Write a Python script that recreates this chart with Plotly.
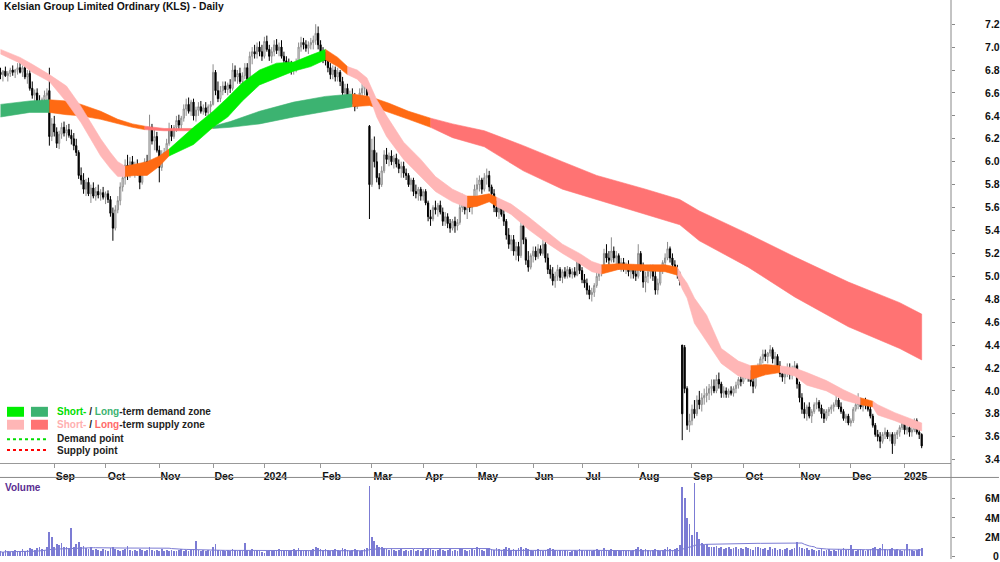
import numpy as np
import pandas as pd
import plotly.graph_objects as go

# ---------------- data ----------------
open_ = [
6.78,6.76,6.79,6.75,6.77,6.80,6.78,6.80,6.82,6.78,
6.82,6.74,6.77,6.64,6.58,6.60,6.52,6.47,6.54,6.58,
6.62,6.22,6.33,6.26,6.16,6.24,6.30,6.25,6.28,6.23,
6.20,6.14,6.08,5.88,5.84,5.76,5.82,5.72,5.77,5.70,
5.74,5.71,5.73,5.69,5.72,5.67,5.55,5.42,5.58,5.66,
5.78,5.86,5.97,5.90,6.00,5.93,5.96,5.90,5.82,5.95,
6.00,5.98,6.30,6.18,6.22,6.10,5.95,6.06,6.08,6.16,
6.28,6.22,6.30,6.36,6.32,6.38,6.46,6.50,6.44,6.52,
6.40,6.45,6.48,6.44,6.47,6.43,6.48,6.50,6.78,6.62,
6.55,6.62,6.66,6.63,6.67,6.64,6.80,6.74,6.77,6.70,
6.75,6.82,6.72,6.92,6.96,6.94,7.00,6.96,6.92,7.05,
6.98,6.92,6.96,7.02,6.97,7.00,6.92,6.88,6.84,6.82,
6.80,6.84,6.86,7.00,7.04,7.02,6.99,7.02,7.04,7.06,
7.12,7.02,6.95,6.90,6.88,6.82,6.76,6.80,6.74,6.78,
6.70,6.60,6.64,6.52,6.58,6.54,6.48,6.56,6.60,6.64,
6.66,6.31,5.80,6.10,6.00,5.86,5.80,5.92,6.06,6.02,
6.05,6.00,6.03,5.98,5.94,5.96,5.90,5.88,5.80,5.84,
5.74,5.72,5.76,5.70,5.74,5.64,5.52,5.50,5.60,5.58,
5.62,5.56,5.48,5.52,5.46,5.42,5.48,5.44,5.47,5.60,
5.68,5.58,5.62,5.60,5.64,5.76,5.80,5.84,5.76,5.86,
5.88,5.78,5.72,5.60,5.56,5.60,5.54,5.48,5.36,5.28,
5.32,5.22,5.26,5.18,5.44,5.32,5.14,5.08,5.18,5.22,
5.17,5.24,5.20,5.28,5.16,5.06,5.02,4.96,5.00,5.06,
4.99,5.04,5.00,5.06,5.02,5.04,5.01,5.14,5.05,4.97,
4.94,4.88,4.84,4.86,4.92,5.00,5.04,5.08,5.20,5.16,
5.14,5.22,5.16,5.18,5.10,5.12,5.08,5.10,5.04,5.06,
5.02,5.00,5.20,5.08,4.95,5.00,5.04,5.06,5.00,4.88,
4.94,5.05,5.12,5.16,5.24,5.16,5.10,5.06,5.02,4.40,
4.38,4.02,3.70,3.74,3.84,3.80,3.92,3.88,3.94,3.96,
3.98,4.02,4.04,4.00,4.10,4.06,3.98,4.00,3.97,4.00,
3.98,4.02,4.05,4.10,4.08,4.14,4.16,4.12,4.08,4.04,
4.18,4.20,4.28,4.32,4.30,4.33,4.36,4.28,4.30,4.22,
4.15,4.12,4.16,4.20,4.14,4.18,4.22,4.06,3.94,3.84,
3.80,3.86,3.78,3.82,3.88,3.90,3.85,3.80,3.76,3.82,
3.84,3.86,3.88,3.92,3.86,3.82,3.76,3.78,3.72,3.74,
3.84,3.88,3.90,3.86,3.90,3.88,3.84,3.78,3.70,3.62,
3.60,3.56,3.62,3.64,3.60,3.62,3.54,3.62,3.64,3.68,
3.72,3.66,3.68,3.64,3.66,3.74,3.64,3.62]
high = [
6.82,6.80,6.83,6.79,6.82,6.84,6.81,6.86,6.88,6.84,
6.85,6.80,6.81,6.70,6.63,6.64,6.58,6.56,6.62,6.64,
6.82,6.38,6.40,6.30,6.27,6.34,6.35,6.32,6.33,6.28,
6.25,6.20,6.10,5.95,5.90,5.85,5.86,5.80,5.82,5.78,
5.80,5.76,5.78,5.74,5.75,5.70,5.60,5.62,5.70,5.82,
5.90,6.02,6.06,6.04,6.05,6.00,6.02,5.95,5.98,6.03,
6.06,6.41,6.33,6.28,6.26,6.14,6.10,6.12,6.20,6.34,
6.32,6.32,6.40,6.41,6.40,6.50,6.55,6.56,6.54,6.55,
6.48,6.52,6.53,6.50,6.52,6.50,6.53,6.85,6.80,6.70,
6.66,6.70,6.70,6.69,6.72,6.86,6.84,6.80,6.82,6.78,
6.86,6.86,6.96,7.00,7.02,7.04,7.05,7.02,7.09,7.10,
7.02,7.00,7.06,7.07,7.04,7.06,6.96,6.92,6.90,6.88,
6.86,6.90,7.04,7.09,7.08,7.06,7.05,7.08,7.10,7.20,
7.18,7.06,7.00,6.96,6.90,6.86,6.84,6.83,6.82,6.80,
6.74,6.68,6.68,6.62,6.64,6.60,6.58,6.64,6.68,6.70,
6.68,6.32,6.20,6.22,6.08,5.90,5.96,6.10,6.12,6.08,
6.10,6.06,6.07,6.02,6.00,6.00,5.94,5.90,5.86,5.86,
5.80,5.78,5.78,5.76,5.76,5.66,5.58,5.62,5.66,5.64,
5.66,5.60,5.56,5.55,5.50,5.50,5.52,5.50,5.64,5.72,
5.70,5.64,5.68,5.66,5.80,5.86,5.88,5.86,5.90,5.94,
5.92,5.80,5.76,5.66,5.64,5.66,5.58,5.50,5.42,5.36,
5.36,5.30,5.30,5.52,5.48,5.34,5.22,5.20,5.26,5.26,
5.28,5.27,5.32,5.30,5.20,5.10,5.08,5.04,5.10,5.08,
5.06,5.08,5.09,5.08,5.07,5.08,5.18,5.16,5.08,5.02,
4.98,4.92,4.90,4.94,5.04,5.08,5.10,5.24,5.28,5.22,
5.34,5.26,5.22,5.20,5.16,5.16,5.12,5.14,5.10,5.10,
5.06,5.28,5.22,5.12,5.04,5.08,5.10,5.10,5.06,4.98,
5.08,5.14,5.20,5.30,5.26,5.20,5.14,5.10,5.04,4.40,
4.40,4.04,3.80,3.88,3.92,3.96,4.00,3.98,4.02,4.04,
4.06,4.10,4.10,4.14,4.16,4.08,4.04,4.03,4.02,4.04,
4.04,4.08,4.12,4.16,4.16,4.20,4.22,4.18,4.14,4.20,
4.24,4.30,4.36,4.36,4.34,4.40,4.38,4.34,4.32,4.26,
4.20,4.18,4.24,4.24,4.22,4.26,4.24,4.08,3.98,3.90,
3.88,3.90,3.84,3.90,3.94,3.92,3.88,3.84,3.84,3.86,
3.88,3.90,3.96,3.94,3.90,3.84,3.80,3.80,3.76,3.86,
3.90,3.98,3.94,3.92,3.94,3.92,3.88,3.80,3.72,3.66,
3.64,3.64,3.68,3.66,3.64,3.64,3.64,3.66,3.70,3.76,
3.74,3.70,3.72,3.70,3.76,3.76,3.66,3.63]
low = [
6.72,6.70,6.74,6.70,6.74,6.75,6.73,6.76,6.77,6.74,
6.72,6.68,6.62,6.55,6.50,6.48,6.44,6.45,6.50,6.52,
6.14,6.18,6.22,6.12,6.11,6.20,6.22,6.18,6.21,6.15,
6.10,6.05,5.85,5.80,5.72,5.70,5.70,5.64,5.68,5.66,
5.68,5.66,5.67,5.63,5.64,5.52,5.31,5.40,5.55,5.62,
5.74,5.80,5.84,5.86,5.90,5.86,5.88,5.76,5.80,5.90,
5.94,5.96,6.15,6.10,6.08,5.82,5.92,6.02,6.06,6.14,
6.18,6.20,6.26,6.28,6.28,6.35,6.40,6.42,6.40,6.36,
6.35,6.40,6.42,6.41,6.40,6.38,6.42,6.49,6.58,6.52,
6.52,6.58,6.60,6.58,6.60,6.62,6.70,6.68,6.68,6.66,
6.72,6.70,6.70,6.85,6.90,6.90,6.92,6.88,6.90,6.96,
6.88,6.86,6.92,6.94,6.92,6.90,6.84,6.80,6.78,6.76,
6.76,6.78,6.84,6.96,6.98,6.96,6.94,6.98,6.98,7.02,
6.98,6.92,6.86,6.84,6.78,6.72,6.72,6.70,6.70,6.66,
6.56,6.54,6.48,6.48,6.50,6.44,6.46,6.52,6.56,6.58,
6.55,5.50,5.78,5.95,5.82,5.76,5.78,5.90,5.98,5.96,
5.97,5.94,5.95,5.90,5.86,5.86,5.84,5.78,5.74,5.70,
5.68,5.66,5.66,5.66,5.62,5.48,5.44,5.48,5.54,5.52,
5.54,5.44,5.44,5.42,5.38,5.40,5.38,5.40,5.45,5.56,
5.54,5.50,5.56,5.54,5.62,5.70,5.74,5.72,5.74,5.80,
5.74,5.68,5.56,5.52,5.50,5.52,5.44,5.32,5.24,5.22,
5.18,5.14,5.13,5.16,5.28,5.10,5.04,5.06,5.12,5.14,
5.15,5.18,5.18,5.12,5.02,4.98,4.92,4.90,4.96,4.96,
4.94,4.98,4.98,4.99,4.98,4.99,5.00,5.02,4.94,4.90,
4.84,4.80,4.78,4.82,4.90,4.96,5.00,5.06,5.12,5.10,
5.12,5.12,5.10,5.06,5.04,5.04,5.02,5.00,4.98,4.98,
4.96,4.98,5.04,4.90,4.86,4.94,4.98,4.96,4.84,4.84,
4.92,5.02,5.08,5.14,5.12,5.06,5.02,4.98,4.92,3.57,
3.98,3.66,3.64,3.70,3.76,3.78,3.84,3.82,3.88,3.90,
3.92,3.96,3.98,3.98,4.02,3.94,3.94,3.94,3.94,3.96,
3.95,3.98,4.02,4.04,4.06,4.10,4.08,4.04,3.98,4.02,
4.12,4.18,4.24,4.26,4.24,4.30,4.24,4.22,4.18,4.12,
4.08,4.06,4.12,4.10,4.10,4.14,4.02,3.90,3.80,3.76,
3.74,3.76,3.72,3.80,3.84,3.82,3.76,3.72,3.74,3.78,
3.80,3.82,3.86,3.84,3.80,3.74,3.72,3.70,3.69,3.72,
3.82,3.84,3.84,3.82,3.84,3.82,3.76,3.68,3.60,3.56,
3.50,3.54,3.58,3.58,3.56,3.45,3.52,3.58,3.60,3.66,
3.62,3.62,3.60,3.60,3.64,3.62,3.58,3.50]
close = [
6.76,6.79,6.75,6.77,6.80,6.78,6.80,6.82,6.78,6.82,
6.74,6.77,6.64,6.58,6.60,6.52,6.47,6.54,6.58,6.60,
6.22,6.33,6.26,6.16,6.24,6.30,6.25,6.28,6.23,6.20,
6.14,6.08,5.88,5.84,5.76,5.82,5.72,5.77,5.70,5.74,
5.71,5.73,5.69,5.72,5.67,5.55,5.42,5.58,5.66,5.78,
5.86,5.97,5.90,6.00,5.93,5.96,5.90,5.82,5.95,6.00,
5.98,6.30,6.18,6.22,6.10,5.95,6.06,6.08,6.16,6.28,
6.22,6.30,6.36,6.32,6.38,6.46,6.50,6.44,6.52,6.40,
6.45,6.48,6.44,6.47,6.43,6.48,6.50,6.78,6.62,6.55,
6.62,6.66,6.63,6.67,6.64,6.80,6.74,6.77,6.70,6.75,
6.82,6.72,6.92,6.96,6.94,7.00,6.96,6.92,7.05,6.98,
6.92,6.96,7.02,6.97,7.00,6.92,6.88,6.84,6.82,6.80,
6.84,6.86,7.00,7.04,7.02,6.99,7.02,7.04,7.06,7.12,
7.02,6.95,6.90,6.88,6.82,6.76,6.80,6.74,6.78,6.70,
6.60,6.64,6.52,6.58,6.54,6.48,6.56,6.60,6.64,6.66,
6.58,5.80,6.10,6.00,5.86,5.80,5.92,6.06,6.02,6.05,
6.00,6.03,5.98,5.94,5.96,5.90,5.88,5.80,5.84,5.74,
5.72,5.76,5.70,5.74,5.64,5.52,5.50,5.60,5.58,5.62,
5.56,5.48,5.52,5.46,5.42,5.48,5.44,5.47,5.60,5.68,
5.58,5.62,5.60,5.64,5.76,5.80,5.84,5.76,5.86,5.88,
5.78,5.72,5.60,5.56,5.60,5.54,5.48,5.36,5.28,5.32,
5.22,5.26,5.18,5.44,5.32,5.14,5.08,5.18,5.22,5.17,
5.24,5.20,5.28,5.16,5.06,5.02,4.96,5.00,5.06,4.99,
5.04,5.00,5.06,5.02,5.04,5.01,5.14,5.05,4.97,4.94,
4.88,4.84,4.86,4.92,5.00,5.04,5.08,5.20,5.16,5.14,
5.22,5.16,5.18,5.10,5.12,5.08,5.10,5.04,5.06,5.02,
5.00,5.20,5.08,4.95,5.00,5.04,5.06,5.00,4.88,4.94,
5.05,5.12,5.16,5.24,5.16,5.10,5.06,5.02,4.96,3.80,
4.02,3.70,3.74,3.84,3.80,3.92,3.88,3.94,3.96,3.98,
4.02,4.04,4.00,4.10,4.06,3.98,4.00,3.97,4.00,3.98,
4.02,4.05,4.10,4.08,4.14,4.16,4.12,4.08,4.04,4.18,
4.20,4.28,4.32,4.30,4.33,4.36,4.28,4.30,4.22,4.15,
4.12,4.16,4.20,4.14,4.18,4.22,4.06,3.94,3.84,3.80,
3.86,3.78,3.82,3.88,3.90,3.85,3.80,3.76,3.82,3.84,
3.86,3.88,3.92,3.86,3.82,3.76,3.78,3.72,3.74,3.84,
3.88,3.90,3.86,3.90,3.88,3.84,3.78,3.70,3.62,3.60,
3.56,3.62,3.64,3.60,3.62,3.54,3.62,3.64,3.68,3.72,
3.66,3.68,3.64,3.66,3.74,3.64,3.62,3.52]
volume_m = [
0.5,0.4,0.6,0.5,0.4,0.5,0.6,0.4,0.5,0.7,
0.5,0.6,0.8,0.7,0.6,0.8,0.9,0.7,0.6,0.9,
2.5,2.0,1.0,1.3,1.2,1.4,0.9,1.0,0.8,2.9,
0.9,1.3,1.5,1.0,1.1,0.8,0.7,0.9,0.6,0.7,
0.6,0.5,0.7,0.6,0.5,0.8,1.0,0.7,0.6,0.5,
0.6,0.7,1.1,0.6,0.5,0.6,0.5,0.7,0.6,0.5,
0.6,1.0,0.6,0.5,0.6,0.5,0.7,0.5,0.6,0.5,
0.6,0.5,0.5,0.6,0.7,0.5,0.6,0.5,0.6,0.7,
1.6,0.6,0.5,0.6,0.5,0.6,0.5,0.9,1.3,0.6,
0.5,0.6,0.5,0.6,0.5,0.7,0.6,0.5,0.6,0.5,
1.4,0.6,0.5,0.7,0.5,0.6,0.5,0.4,0.3,0.5,
0.6,0.5,0.6,0.5,0.7,0.6,0.5,0.6,0.5,0.6,
0.7,0.5,0.8,0.6,0.5,0.6,0.5,0.6,0.7,0.9,
0.8,0.7,0.6,0.7,0.6,0.5,0.6,0.7,0.6,0.5,
0.8,0.7,0.6,0.5,0.6,0.7,0.6,0.5,0.6,0.7,
0.8,7.3,2.0,1.6,1.2,1.0,0.9,0.8,0.7,0.6,
0.7,0.6,0.5,0.6,0.7,0.5,0.6,0.5,0.6,0.7,
0.5,0.6,0.5,0.7,0.6,0.8,0.7,0.6,0.5,0.6,
0.7,0.6,0.5,0.6,0.7,0.5,0.6,0.5,0.8,0.7,
0.6,0.5,0.6,0.7,0.6,0.9,0.8,0.6,0.5,0.7,
0.8,0.7,0.6,0.8,0.7,0.6,0.7,0.9,0.8,0.6,
0.7,0.6,0.8,1.0,0.7,0.8,0.7,0.6,0.5,0.6,
0.7,0.6,0.5,0.6,0.7,0.8,0.7,0.6,0.5,0.6,
0.5,0.6,0.5,0.4,0.5,0.6,0.5,0.7,0.6,0.5,
0.6,0.6,0.5,0.6,0.7,0.6,0.5,0.8,0.6,0.5,
0.7,0.6,0.5,0.6,0.5,0.6,0.5,0.6,0.5,0.6,
0.7,0.9,0.7,0.6,0.7,0.6,0.5,0.6,0.7,0.6,
0.5,0.6,0.7,0.9,0.7,0.6,0.7,0.8,1.2,7.2,
6.0,4.0,3.3,2.2,7.6,2.5,1.8,1.4,1.2,1.3,
1.0,1.0,0.9,1.1,0.8,0.9,0.7,0.8,0.9,0.7,
0.8,0.9,0.7,0.8,0.7,0.9,0.8,0.7,0.6,1.0,
0.9,0.8,0.7,0.8,0.6,0.9,0.7,0.8,0.6,0.7,
0.6,0.7,0.8,0.6,0.7,0.8,1.5,1.0,0.8,0.7,
0.8,0.6,0.7,0.6,0.5,0.6,0.7,0.5,0.6,0.7,
0.5,0.6,0.5,0.7,0.6,0.8,0.6,0.7,1.2,0.6,
0.5,0.6,0.7,0.6,0.5,0.6,0.7,0.8,0.9,0.7,
0.8,1.3,0.7,0.6,0.7,0.8,0.6,0.7,0.6,0.5,
0.6,1.3,0.7,0.6,0.5,0.6,0.7,0.8]

# short-term band (trading-day index, two edges, zone per segment)
st_idx = [0,8,13,20,27,33,37,41,45,48, 51,55,60,65,69,79,87,93,99,106,
          113,120,127,133,138,142,146,150,154,158, 165,172,178,185,191,195,200,203,209,216,
          223,230,237,242,246,253,264,272,277,279, 281,284,289,295,302,307,313,319,325,330,
          338,345,352,357,359,366,373,377]
st_hi = [6.98,6.91,6.85,6.76,6.66,6.48,6.34,6.20,6.08,6.00, 5.96,5.98,6.00,6.05,6.11,6.30,6.44,6.56,6.69,6.80,
         6.86,6.87,6.93,6.98,6.91,6.83,6.80,6.73,6.54,6.40, 6.17,6.02,5.87,5.76,5.70,5.70,5.72,5.69,5.63,5.52,
         5.40,5.28,5.20,5.13,5.10,5.11,5.10,5.10,5.08,5.00, 4.94,4.81,4.66,4.37,4.26,4.22,4.23,4.22,4.20,4.16,
         4.09,4.01,3.94,3.91,3.88,3.81,3.75,3.72]
st_lo = [6.94,6.86,6.78,6.70,6.52,6.34,6.20,6.05,5.94,5.87, 5.87,5.88,5.88,5.96,6.05,6.15,6.30,6.39,6.53,6.67,
         6.73,6.79,6.83,6.89,6.83,6.76,6.72,6.63,6.39,6.22, 6.02,5.87,5.74,5.65,5.60,5.61,5.65,5.61,5.54,5.41,
         5.30,5.20,5.11,5.04,5.02,5.06,5.05,5.04,5.01,4.89, 4.81,4.59,4.43,4.24,4.13,4.10,4.14,4.16,4.13,4.05,
         4.00,3.92,3.88,3.86,3.79,3.74,3.68,3.65]
st_zone = "SSSSSSSSSS" + "TTTTDDDDDD" + "DDDTTSSSSS" + "SSSSTTTSSS" + "SSSSTTTTSS" + "SSSSSTTSSS" + "SSTSSSSS"

# long-term band
lt_idx = [0,12,20,27,33,41,48,54,59,67, 79,87,94,106,120,133,144,151,159,167,
          176,185,198,214,230,244,264,278,286,306, 325,347,368,377]
lt_hi = [6.50,6.53,6.54,6.53,6.50,6.44,6.37,6.33,6.31,6.29, 6.29,6.31,6.35,6.44,6.52,6.57,6.59,6.57,6.51,6.44,
         6.38,6.33,6.27,6.14,6.00,5.88,5.76,5.67,5.57,5.37, 5.17,4.95,4.77,4.67]
lt_lo = [6.39,6.43,6.43,6.41,6.40,6.37,6.33,6.30,6.28,6.27, 6.27,6.29,6.30,6.33,6.39,6.44,6.48,6.49,6.43,6.37,
         6.30,6.21,6.13,5.92,5.76,5.67,5.54,5.45,5.31,5.08, 4.82,4.56,4.37,4.27]
lt_zone = "DDTTTTTTSS" + "SDDDDDTTTT" + "SSSSSSSSSS" + "SSSS"

price_ticks = [3.4,3.6,3.8,4.0,4.2,4.4,4.6,4.8,5.0,5.2,5.4,5.6,5.8,6.0,6.2,6.4,6.6,6.8,7.0,7.2]
vol_ticks = [0, 2, 4, 6]
vol_tick_text = ["\u2007\u20090", "2M", "4M", "6M"]

# ---------------- build ----------------
n = len(close)
dates = pd.bdate_range("2023-08-02", periods=n)
x = np.arange(n)

tick_pos, tick_txt = [], []
for i in range(1, n):
    if dates[i].month != dates[i - 1].month:
        tick_pos.append(i)
        tick_txt.append(str(dates[i].year) if dates[i].month == 1 else dates[i].strftime("%b"))

FONT = "Liberation Sans, Arial, sans-serif"
ST_COL = {"S": "#ffb6b6", "D": "#00ee00", "T": "#ff6a13"}
LT_COL = {"S": "#ff7373", "D": "#3cb371", "T": "#ff6a13"}

fig = go.Figure()


def add_band(idx, hi, lo, zone, cmap):
    start = 0
    m = len(idx)
    for i in range(1, m):
        if zone[i] != zone[start] or i == m - 1:
            xs = idx[start:i + 1] + idx[start:i + 1][::-1]
            ys = hi[start:i + 1] + lo[start:i + 1][::-1]
            c = cmap[zone[start]]
            fig.add_trace(go.Scatter(x=xs, y=ys, fill="toself", fillcolor=c, mode="lines",
                                     line=dict(color=c, width=0.6), hoverinfo="skip",
                                     showlegend=False, xaxis="x", yaxis="y"))
            start = i


add_band(lt_idx, lt_hi, lt_lo, lt_zone, LT_COL)
add_band(st_idx, st_hi, st_lo, st_zone, ST_COL)

fig.add_trace(go.Candlestick(
    x=x, open=open_, high=high, low=low, close=close,
    increasing=dict(line=dict(color="#8c8c8c", width=1), fillcolor="#ffffff"),
    decreasing=dict(line=dict(color="#000000", width=1), fillcolor="#000000"),
    whiskerwidth=0, showlegend=False, xaxis="x", yaxis="y"))

vol_ma = pd.Series(volume_m).rolling(50, min_periods=1).mean()
fig.add_trace(go.Bar(x=x, y=volume_m, width=0.3, marker=dict(color="#7c7cd4", line=dict(width=0)),
                     showlegend=False, xaxis="x2", yaxis="y2"))
fig.add_trace(go.Scatter(x=x, y=vol_ma, mode="lines", line=dict(color="#7c7cd4", width=1),
                         showlegend=False, xaxis="x2", yaxis="y2"))

W, H, PW = 1000, 562, 952.0
def px(xp):
    return xp / PW
def py(yp):
    return 1 - yp / H

TICKFONT = dict(family=FONT, size=10.5, color="#111", weight="bold")

fig.update_layout(
    width=W, height=H, margin=dict(l=0, r=W - PW, t=0, b=0),
    paper_bgcolor="white", plot_bgcolor="white",
    font=dict(family=FONT, size=11, color="#111"),
    bargap=0,
    xaxis=dict(domain=[0, 1], range=[-0.2, 389], anchor="y", showgrid=False, zeroline=False,
               showline=True, linecolor="#999", linewidth=1,
               tickvals=tick_pos, ticktext=tick_txt, ticks="outside", ticklen=4, tickcolor="#999",
               ticklabelshift=11, tickfont=TICKFONT,
               rangeslider=dict(visible=False)),
    xaxis2=dict(domain=[0, 1], range=[-0.2, 389], anchor="y2", matches="x", showgrid=False,
                zeroline=False, showticklabels=False, ticks=""),
    yaxis=dict(domain=[1 - 465 / H, 1], range=[3.375, 7.411], side="right", anchor="x",
               showgrid=False, zeroline=False, showline=False,
               tickvals=price_ticks, ticktext=[f"{v:.1f}" for v in price_ticks],
               ticks="outside", ticklen=3, tickcolor="#888", ticklabelstandoff=28,
               tickfont=TICKFONT),
    yaxis2=dict(domain=[0, 1 - 480 / H], range=[-0.25, 8.2], side="right", anchor="x2",
                showgrid=False, zeroline=False, showline=False,
                tickvals=vol_ticks, ticktext=vol_tick_text, ticklabeloverflow="allow",
                ticks="outside", ticklen=3, tickcolor="#888", ticklabelstandoff=28,
                tickfont=TICKFONT),
)

shapes = [
    dict(type="line", xref="paper", yref="paper", x0=1, x1=1, y0=0, y1=1, line=dict(color="#888", width=1)),
    dict(type="line", xref="paper", yref="paper", x0=0, x1=W / PW, y0=py(480), y1=py(480),
         line=dict(color="#888", width=1)),
]
# legend boxes
for (x0, x1, y0, y1, c) in [(7, 24, 409, 419, "#00ee00"), (31, 48, 409, 419, "#3cb371"),
                            (7, 24, 422, 432, "#ffb6b6"), (31, 48, 422, 432, "#ff7373")]:
    shapes.append(dict(type="rect", xref="paper", yref="paper", x0=px(x0), x1=px(x1),
                       y0=py(y1), y1=py(y0), fillcolor=c, line=dict(width=0)))
shapes.append(dict(type="line", xref="paper", yref="paper", x0=px(7), x1=px(48), y0=py(441.5), y1=py(441.5),
                   line=dict(color="#00dd00", width=2, dash="dot")))
shapes.append(dict(type="line", xref="paper", yref="paper", x0=px(7), x1=px(48), y0=py(452.5), y1=py(452.5),
                   line=dict(color="#ff0000", width=2, dash="dot")))
fig.update_layout(shapes=shapes)

ann = [
    dict(text="<b>Kelsian Group Limited Ordinary (KLS) - Daily</b>", x=px(2), y=py(7),
         font=dict(size=10.3, color="#111")),
    dict(text="<b>Volume</b>", x=px(3), y=py(490), font=dict(size=10, color="#5a2d91")),
    dict(text='<b><span style="color:#00dd00">Short-</span> / <span style="color:#3cb371">Long</span>-term demand zone</b>',
         x=px(55), y=py(414), font=dict(size=10, color="#222")),
    dict(text='<b><span style="color:#ffb0b0">Short-</span> / <span style="color:#ff6a6a">Long</span>-term supply zone</b>',
         x=px(55), y=py(427), font=dict(size=10, color="#222")),
    dict(text="<b>Demand point</b>", x=px(55), y=py(441), font=dict(size=10, color="#222")),
    dict(text="<b>Supply point</b>", x=px(55), y=py(453), font=dict(size=10, color="#222")),
]
for a in ann:
    a.update(xref="paper", yref="paper", xanchor="left", yanchor="middle", showarrow=False)
    a["font"]["family"] = FONT
fig.update_layout(annotations=ann)

fig.write_html("out.html")
